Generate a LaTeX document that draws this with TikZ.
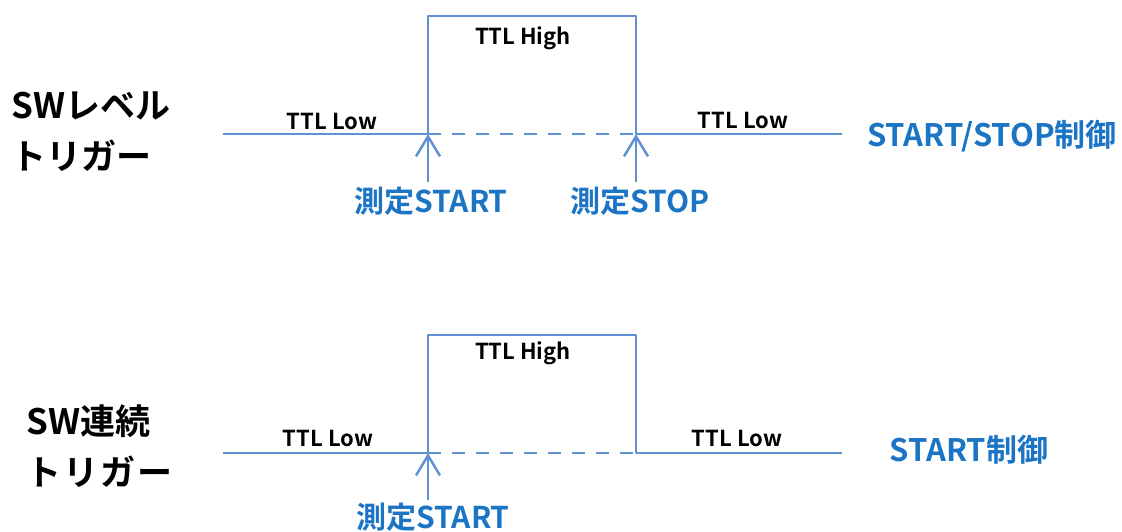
\documentclass[tikz,border=0pt]{standalone}
\usepackage{fontspec}
\setmainfont{Noto Sans CJK JP}[BoldFont={Noto Sans CJK JP Bold}]
\usetikzlibrary{arrows.meta}
\definecolor{wavec}{RGB}{96,146,210}
\definecolor{lblc}{RGB}{28,117,196}
\begin{document}
\begin{tikzpicture}[x=1pt,y=-1pt,
  wave/.style={draw=wavec,line width=2.8pt,line join=round},
  dashwave/.style={draw=wavec,line width=2.8pt,dash pattern=on 13pt off 11pt},
  trig/.style={draw=wavec,line width=2.5pt,-{Straight Barb[length=20pt,width=24pt,line width=2.5pt]}},
  ttl/.style={inner sep=0pt,font=\bfseries\fontsize{22}{22}\selectfont},
  blue/.style={inner sep=0pt,text=lblc,font=\bfseries\fontsize{30}{30}\selectfont},
  ctrl/.style={inner sep=0pt,text=lblc,font=\bfseries\fontsize{31}{31}\selectfont},
  side/.style={inner sep=0pt,align=left,font=\bfseries\fontsize{35}{51}\selectfont}]
\useasboundingbox[fill=white] (0,0) rectangle (1122,531);
% top waveform
\coordinate (a0) at (223,134);
\coordinate (a1) at (428,134);
\coordinate (a2) at (428,16);
\coordinate (a3) at (636,16);
\coordinate (a4) at (636,134);
\coordinate (a5) at (842,134);
\draw[wave] (a0) -- (a1) -- (a2) -- (a3) -- (a4) -- (a5);
\draw[dashwave] (a1) -- (a4);
\node[ttl] (th1) at (523,38) {TTL High};
\node[ttl] (tl1) at (332,121) {TTL Low};
\node[ttl] (tr1) at (743,120) {TTL Low};
\node[ctrl] (c1) at (992,136) {START/STOP制御};
\node[blue] (ms1) at (431,201) {測定START};
\node[blue] (mp1) at (640,201) {測定STOP};
\coordinate (s1) at (428,182);
\coordinate (p1) at (636,182);
\draw[trig] (s1) -- (a1);
\draw[trig] (p1) -- (a4);
\node[side,anchor=west] (lv) at (11,132) {SWレベル\\トリガー};
% bottom waveform
\coordinate (b0) at (223,453);
\coordinate (b1) at (428,453);
\coordinate (b2) at (428,335);
\coordinate (b3) at (636,335);
\coordinate (b4) at (636,453);
\coordinate (b5) at (842,453);
\draw[wave] (b0) -- (b1) -- (b2) -- (b3) -- (b4) -- (b5);
\draw[dashwave] (b1) -- (b4);
\node[ttl] (th2) at (523,353) {TTL High};
\node[ttl] (tl2) at (328,438) {TTL Low};
\node[ttl] (tr2) at (737,438) {TTL Low};
\node[ctrl] (c2) at (969,450) {START制御};
\node[blue] (ms2) at (433,517) {測定START};
\coordinate (s2) at (428,500);
\draw[trig] (s2) -- (b1);
\node[side,anchor=west] (cn) at (26,446) {SW連続\\ト\kern2pt リ\kern2pt ガ\kern2pt ー};
\end{tikzpicture}
\end{document}
